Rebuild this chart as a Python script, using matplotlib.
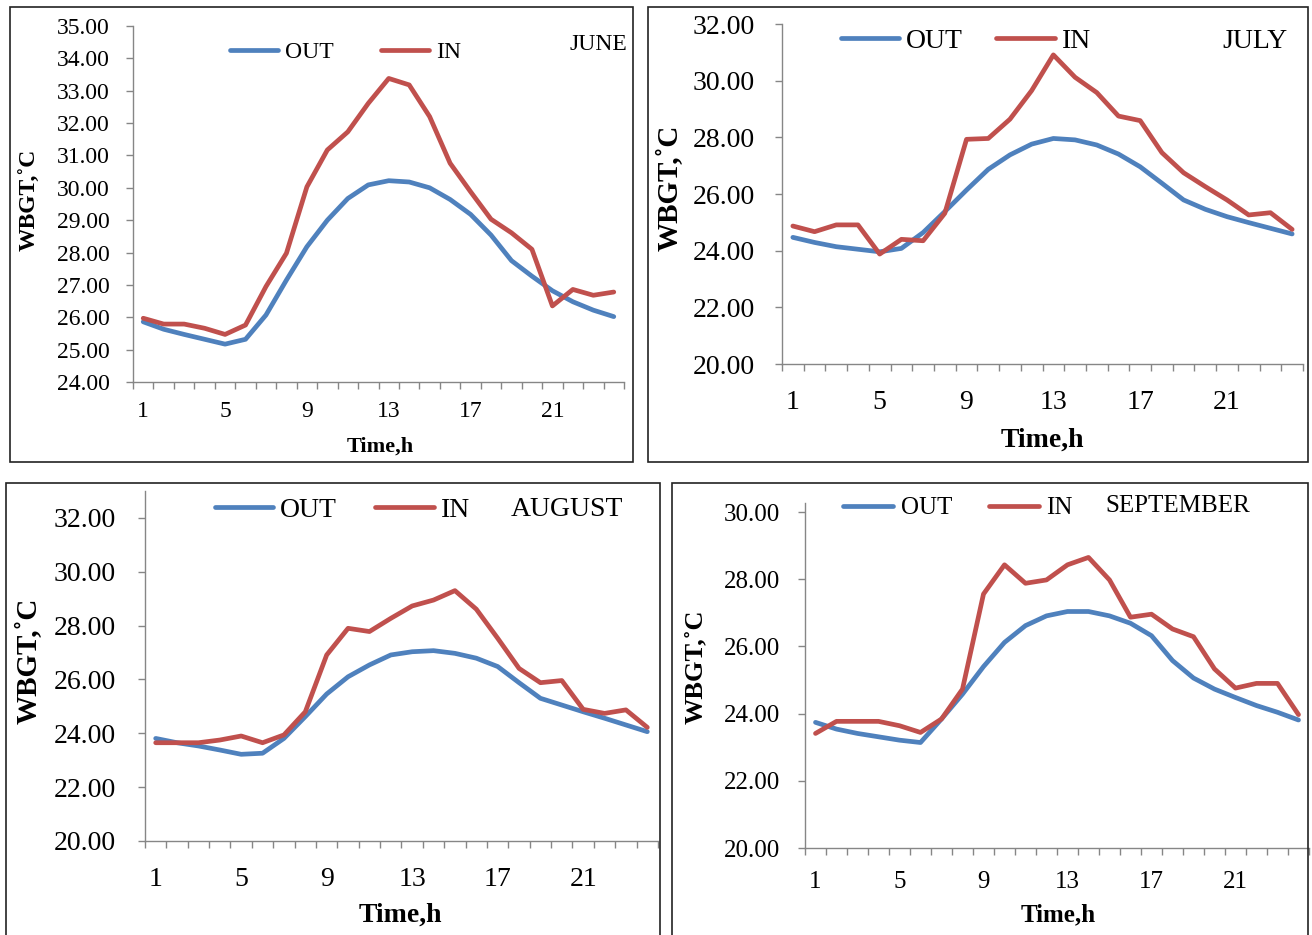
import matplotlib
matplotlib.use('Agg')
import matplotlib.pyplot as plt
from matplotlib.patches import Rectangle
from matplotlib.ticker import FixedLocator, FuncFormatter

plt.rcParams['font.family'] = ['Liberation Serif', 'DejaVu Serif']

# ---------------- data ----------------
hours = list(range(1, 25))
series_labels = ['OUT', 'IN']
months = ['JUNE', 'JULY', 'AUGUST', 'SEPTEMBER']
x_tick_labels = [1, 5, 9, 13, 17, 21]

june_out = [25.86, 25.63, 25.47, 25.32, 25.17, 25.32, 26.07, 27.15, 28.18, 29.00, 29.67, 30.09,
            30.22, 30.18, 30.00, 29.64, 29.18, 28.54, 27.75, 27.27, 26.82, 26.48, 26.22, 26.02]
june_in = [25.97, 25.79, 25.79, 25.66, 25.47, 25.76, 26.95, 27.98, 30.03, 31.17, 31.73, 32.61,
           33.38, 33.18, 32.20, 30.76, 29.88, 29.03, 28.61, 28.10, 26.35, 26.86, 26.68, 26.78]

july_out = [24.47, 24.29, 24.14, 24.05, 23.96, 24.08, 24.64, 25.38, 26.14, 26.87, 27.38, 27.76,
            27.96, 27.91, 27.73, 27.41, 26.96, 26.38, 25.79, 25.46, 25.20, 24.99, 24.79, 24.59]
july_in = [24.87, 24.67, 24.91, 24.91, 23.88, 24.40, 24.35, 25.32, 27.93, 27.96, 28.64, 29.65,
           30.91, 30.12, 29.58, 28.75, 28.59, 27.46, 26.75, 26.26, 25.79, 25.26, 25.34, 24.75]

aug_out = [23.81, 23.65, 23.53, 23.38, 23.22, 23.26, 23.81, 24.62, 25.46, 26.10, 26.54, 26.91,
           27.03, 27.07, 26.97, 26.79, 26.48, 25.88, 25.30, 25.05, 24.80, 24.56, 24.31, 24.06]
aug_in = [23.65, 23.65, 23.65, 23.75, 23.90, 23.65, 23.94, 24.80, 26.91, 27.90, 27.78, 28.27,
          28.73, 28.95, 29.30, 28.61, 27.53, 26.41, 25.88, 25.96, 24.89, 24.74, 24.87, 24.22]

sep_out = [23.74, 23.54, 23.41, 23.31, 23.21, 23.14, 23.84, 24.58, 25.40, 26.12, 26.62, 26.91,
           27.04, 27.04, 26.91, 26.69, 26.32, 25.58, 25.06, 24.73, 24.48, 24.24, 24.04, 23.81]
sep_in = [23.41, 23.77, 23.77, 23.77, 23.64, 23.44, 23.84, 24.73, 27.56, 28.43, 27.88, 27.98,
          28.43, 28.65, 27.98, 26.87, 26.96, 26.52, 26.29, 25.33, 24.76, 24.90, 24.90, 23.97]

june_yticks = [24, 25, 26, 27, 28, 29, 30, 31, 32, 33, 34, 35]
july_yticks = [20, 22, 24, 26, 28, 30, 32]
aug_yticks = [20, 22, 24, 26, 28, 30, 32]
sep_yticks = [20, 22, 24, 26, 28, 30]

out_series = [june_out, july_out, aug_out, sep_out]
in_series = [june_in, july_in, aug_in, sep_in]
yticks_all = [june_yticks, july_yticks, aug_yticks, sep_yticks]

# ---------------- layout / style ----------------
W, H = 1312, 935
fig = plt.figure(figsize=(W / 100, H / 100), dpi=100)


def fx(px):
    return px / W


def fy(py):
    return 1 - py / H


BLUE = '#4F81BD'
RED = '#C0504D'
AXC = '#868686'

layout = [
    dict(box=(10, 7, 633, 462), ax=(133, 26, 624, 382), ylim=(24, 35), fs=17, labfs=16,
         ylabfs=17, xpad=14, ypad=11.5, ylab=(30, 200), xlab=(380, 447),
         leg=(230, 52), hl=2.03, htp=0.3, cs=2.0, month=(570, 44)),
    dict(box=(648, 7, 1308, 462), ax=(782, 24, 1303, 364), ylim=(20, 32), fs=20, labfs=20,
         ylabfs=21, xpad=19, ypad=14.4, ylab=(670, 188), xlab=(1042, 440),
         leg=(841, 41), hl=2.1, htp=0.25, cs=1.2, month=(1222, 42)),
    dict(box=(6, 483, 660, 938), ax=(145, 491, 658, 841), ylim=(20, 33), fs=20, labfs=20,
         ylabfs=21, xpad=19, ypad=16, ylab=(29, 661), xlab=(400, 915),
         leg=(215, 510), hl=2.1, htp=0.25, cs=1.37, month=(511, 509)),
    dict(box=(672, 483, 1308, 938), ax=(805, 503, 1309, 848), ylim=(20, 30.27), fs=18, labfs=18,
         ylabfs=19, xpad=16.5, ypad=13, ylab=(695, 667), xlab=(1058, 915),
         leg=(843, 508), hl=2.0, htp=0.3, cs=1.48, month=(1105, 506)),
]

for i, cfg in enumerate(layout):
    bx0, by0, bx1, by1 = cfg['box']
    fig.patches.append(Rectangle((fx(bx0), fy(by1)), fx(bx1) - fx(bx0), fy(by0) - fy(by1),
                                 transform=fig.transFigure, fill=False, edgecolor='#222222',
                                 linewidth=1.2, zorder=0))
    ax0, ay0, ax1, ay1 = cfg['ax']
    ax = fig.add_axes([fx(ax0), fy(ay1), fx(ax1) - fx(ax0), fy(ay0) - fy(ay1)])
    ax.patch.set_alpha(0)

    l_out, = ax.plot(hours, out_series[i], color=BLUE, lw=3.4, solid_capstyle='round',
                     solid_joinstyle='round', label=series_labels[0], zorder=3)
    l_in, = ax.plot(hours, in_series[i], color=RED, lw=3.4, solid_capstyle='round',
                    solid_joinstyle='round', label=series_labels[1], zorder=3)

    ax.set_xlim(0.5, 24.5)
    ax.set_ylim(*cfg['ylim'])

    for s in ['top', 'right']:
        ax.spines[s].set_visible(False)
    for s in ['left', 'bottom']:
        ax.spines[s].set_color(AXC)
        ax.spines[s].set_linewidth(1.0)

    ax.xaxis.set_major_locator(FixedLocator(x_tick_labels))
    ax.xaxis.set_minor_locator(FixedLocator([h - 0.5 for h in hours] + [24.5]))
    ax.set_xticklabels([str(v) for v in x_tick_labels])
    ax.tick_params(axis='x', which='major', length=0, pad=cfg['xpad'], labelsize=cfg['fs'])
    ax.tick_params(axis='x', which='minor', length=5, width=1, color=AXC, direction='out')

    ax.set_yticks(yticks_all[i])
    ax.yaxis.set_major_formatter(FuncFormatter(lambda v, p: f'{v:.2f}'))
    ax.tick_params(axis='y', which='major', length=5, width=1, color=AXC, direction='out',
                   pad=cfg['ypad'], labelsize=cfg['fs'])

    # axis titles
    yx, yy = cfg['ylab']
    fig.text(fx(yx), fy(yy), 'WBGT,\u02daC', rotation=90, ha='center', va='center',
             fontsize=cfg['ylabfs'], fontweight='bold')
    tx, ty = cfg['xlab']
    fig.text(fx(tx), fy(ty), 'Time,h', ha='center', va='center',
             fontsize=cfg['labfs'], fontweight='bold')

    # legend
    lx, ly = cfg['leg']
    ax.legend(handles=[l_out, l_in], loc='center left', bbox_to_anchor=(fx(lx), fy(ly)),
              bbox_transform=fig.transFigure, ncol=2, frameon=False, fontsize=cfg['fs'],
              handlelength=cfg['hl'], handletextpad=cfg['htp'], columnspacing=cfg['cs'],
              borderpad=0, borderaxespad=0)

    mx, my = cfg['month']
    fig.text(fx(mx), fy(my), months[i], ha='left', va='center', fontsize=cfg['fs'])

fig.savefig('out.png', dpi=100)
